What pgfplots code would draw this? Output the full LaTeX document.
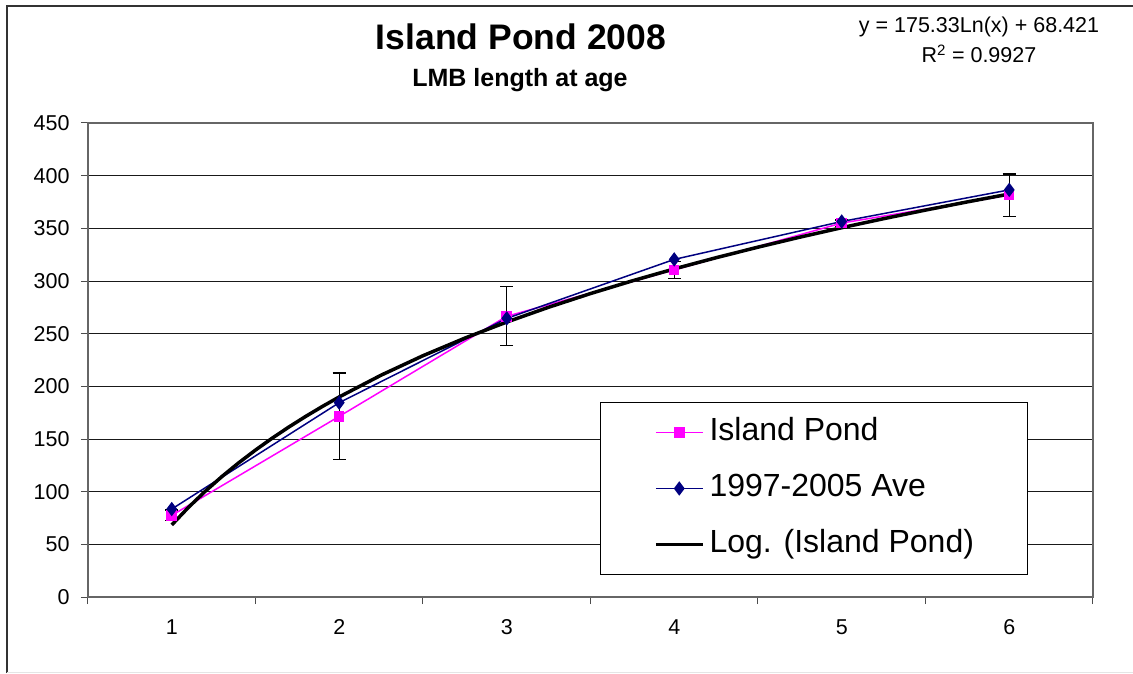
\documentclass[border=0pt]{standalone}
\usepackage{pgfplots}
\pgfplotsset{compat=1.18}
\usepackage{fontspec}
\setmainfont{Liberation Sans}
\definecolor{pinkser}{HTML}{FF00FF}
\definecolor{navyser}{HTML}{000080}
\begin{document}
\begin{tikzpicture}[x=1pt,y=1pt]
\useasboundingbox (-88,-76) rectangle (1045,597);
\fill[white] (-88,-76) rectangle (1045,597);
\begin{axis}[
  at={(0,0)}, anchor=south west,
  scale only axis, width=1005pt, height=474pt,
  xmin=0.5, xmax=6.5, ymin=0, ymax=450,
  xtick={1,2,3,4,5,6},
  minor xtick={0.5,1.5,2.5,3.5,4.5,5.5,6.5},
  ytick={0,50,...,450},
  major x tick style={draw=none},
  tick align=outside,
  major tick length=7pt, minor tick length=7pt,
  xtick pos=bottom, ytick pos=left,
  tick style={black!70, line width=1pt},
  ymajorgrids=true,
  grid style={black!90, line width=1pt},
  axis line style={draw=black!60, line width=1.2pt},
  /pgf/number format/assume math mode=true,
  tick label style={font=\fontsize{21.5}{26}\selectfont},
  xticklabel style={yshift=-12pt},
  yticklabel style={xshift=-8pt},
  legend image code/.code={%
    \path (-5.5pt,0pt);
    \draw[mark repeat=2,mark phase=2,#1] plot coordinates {(0pt,0pt) (23.5pt,0pt) (47pt,0pt)};},
  legend style={at={(0.5095,0.4114)}, anchor=north west,
    draw=black, line width=1pt, fill=white,
    inner xsep=48pt, inner ysep=10pt, row sep=16pt,
    font=\fontsize{32}{36}\selectfont,
    nodes={text height=23pt, text depth=7pt, inner ysep=5pt, inner xsep=5pt}},
  legend cell align=left,
]
\addplot[pinkser, line width=1.5pt, mark=square*, mark size=4.5pt,
  mark options={solid, fill=pinkser, draw=pinkser},
  error bars/.cd, y dir=both, y explicit,
  error bar style={black, line width=1.4pt},
  error mark options={rotate=90, mark size=6.5pt, black, line width=1.4pt}]
coordinates {
 (1,77.5) +- (0,5)
 (2,171.5) +- (0,41)
 (3,266.5) +- (0,28)
 (4,310.5) +- (0,8)
 (5,355) +- (0,3)
 (6,381.5) +- (0,20)
};
\addlegendentry{Island Pond}
\addplot[navyser, line width=1.5pt, mark=diamond*, mark size=6pt,
  mark options={solid, fill=navyser, draw=navyser}]
coordinates {(1,83.5) (2,184.5) (3,264.5) (4,320.5) (5,356.5) (6,386.5)};
\addlegendentry{1997-2005 Ave}
\addplot[black, line width=3.5pt, mark=none] coordinates {
 (1,68.42) (1.1,85.13) (1.2,100.39) (1.3,114.42) (1.4,127.42) (1.5,139.51)
 (1.6,150.83) (1.7,161.46) (1.8,171.48) (1.9,180.96) (2,189.95)
 (2.25,210.60) (2.5,229.08) (2.75,245.79) (3,261.04) (3.25,275.08)
 (3.5,288.07) (3.75,300.17) (4,311.48) (4.25,322.11) (4.5,332.13)
 (4.75,341.61) (5,350.61) (5.25,359.16) (5.5,367.32) (5.75,375.11) (6,382.57)
};
\addlegendentry{Log. (Island Pond)}
\end{axis}
\draw[black!80, line width=1.5pt] (-81,-76) -- (-81,591) -- (1045,591);
\draw[black!10, line width=1pt] (-81,-75) -- (1045,-75);
\node[anchor=base, font=\bfseries\fontsize{35.5}{40}\selectfont] at (433,547) {Island Pond 2008};
\node[anchor=base, font=\bfseries\fontsize{25}{30}\selectfont] at (432,510) {LMB length at age};
\node[anchor=base, font=\fontsize{21.5}{26}\selectfont] at (891,564) {y = 175.33Ln(x) + 68.421};
\node[anchor=base, font=\fontsize{21.5}{26}\selectfont] at (891,534) {R\textsuperscript{2} = 0.9927};
\end{tikzpicture}
\end{document}
